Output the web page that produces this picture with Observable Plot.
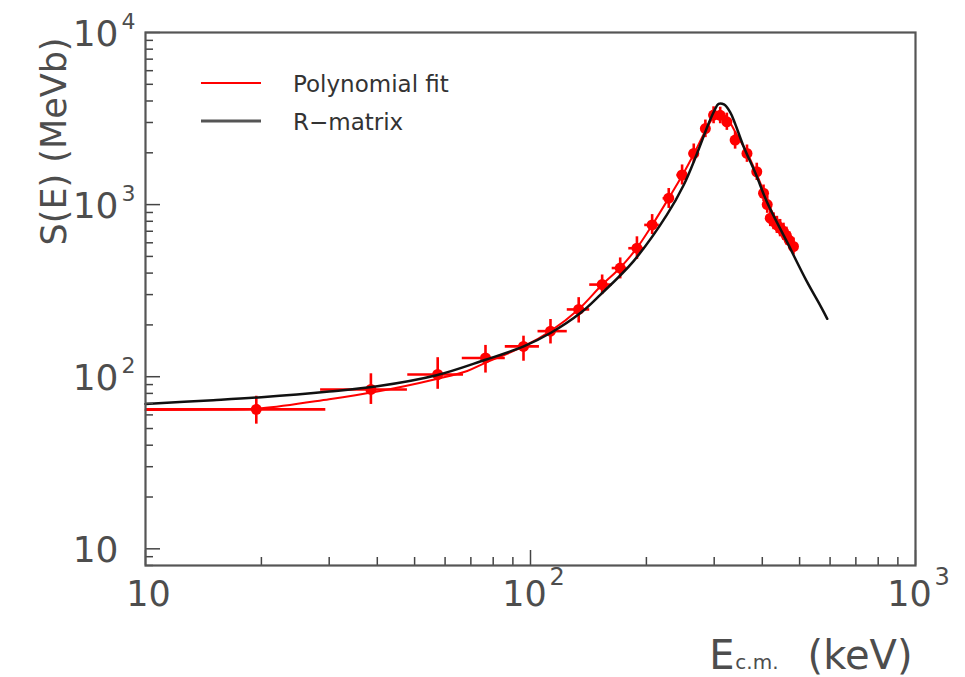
<!DOCTYPE html>
<html><head><meta charset="utf-8">
<script src="https://cdn.jsdelivr.net/npm/d3@7"></script>
<script src="https://cdn.jsdelivr.net/npm/@observablehq/plot@0.6"></script>
<style>
html,body{margin:0;padding:0;background:#fff;}
#chart{width:965px;height:677px;}
</style></head><body><div id="chart"></div>
<script>
// ---- data points (E in keV, S in MeV b) ----
const pointE   = [19.4, 38.5, 57.4, 76.4, 95.9, 112.7, 133.4, 153.5, 171, 189, 207, 228.6, 247.6, 265.5, 284.6, 298.9, 311, 323.6, 340, 365, 387, 403, 412, 419.5, 428, 436.5, 445, 454, 462, 470, 482];
const pointS   = [64.6, 84.3, 103, 128.5, 150, 184, 246, 343, 428, 558, 762, 1089, 1486, 1982, 2767, 3312, 3300, 3027, 2371, 1982, 1552, 1164, 1000, 834, 800, 762, 730, 697, 660, 620, 571];
const pointElo = [10, 28.5, 48, 66.5, 86, 104.6, 124.6, 142.5, 163, 180, 198, 221, 240, 258, 277, 292, 304, 316, 332, 357, 379, 395, 404, 411, 420, 428, 436, 445, 453, 461, 472];
const pointEhi = [29.4, 47.9, 67, 86, 105.5, 124.6, 142.5, 163, 178, 198, 216, 236, 255, 273, 292, 306, 318, 331, 348, 373, 395, 411, 420, 428, 436, 445, 454, 463, 471, 479, 492];
const pointSlo = [53, 69, 84.5, 105, 123, 155, 205, 300, 370, 480, 670, 950, 1300, 1750, 2450, 2950, 2950, 2700, 2100, 1760, 1380, 1040, 890, 745, 715, 680, 650, 620, 590, 555, 510];
const pointShi = [77, 104, 129, 152, 172, 215, 288, 390, 490, 650, 875, 1240, 1700, 2250, 3100, 3700, 3680, 3400, 2650, 2220, 1740, 1300, 1120, 935, 895, 855, 820, 780, 740, 695, 640];

// ---- polynomial fit ----
const polyE = [10, 15, 20, 30, 40, 47, 57, 68.5, 76, 96, 113, 133, 153, 171, 189, 207, 228, 248, 266, 285, 300, 312, 325, 340, 365, 387, 403, 420, 437, 454, 470, 482];
const polyS = [64, 64.5, 65.5, 74, 82, 88, 97, 108, 120, 150, 185, 245, 340, 430, 560, 760, 1080, 1480, 1980, 2700, 3250, 3400, 3150, 2650, 2000, 1500, 1200, 950, 800, 700, 620, 575];

// ---- R-matrix ----
const rmatE = [10, 15, 20, 30, 40, 57, 76, 96, 113, 135, 152, 185, 226, 250, 270, 290, 300, 308, 318, 330, 340, 357, 385, 411, 463, 522, 560, 590];
const rmatS = [69.5, 73, 76, 82, 88, 102, 125, 150, 180, 235, 300, 468, 871, 1300, 1950, 2950, 3500, 3850, 3820, 3450, 2950, 2200, 1500, 1040, 611, 358, 270, 217];

// ---- ticks ----
const xMajor = [10, 100, 1000];
const xMinor = [20, 30, 40, 50, 60, 70, 80, 90, 200, 300, 400, 500, 600, 700, 800, 900];
const xExp = ["", "2", "3"];
const yMajor = [10, 100, 1000, 10000];
const yMinor = [8, 9, 20, 30, 40, 50, 60, 70, 80, 90, 200, 300, 400, 500, 600, 700, 800, 900, 2000, 3000, 4000, 5000, 6000, 7000, 8000, 9000];
const yExp = ["", "2", "3", "4"];

const legendLabels = ["Polynomial fit", "R\u2212matrix"];

const points = pointE.map((e, i) => ({E: e, S: pointS[i], Elo: pointElo[i], Ehi: pointEhi[i], Slo: pointSlo[i], Shi: pointShi[i]}));
const poly = polyE.map((e, i) => ({E: e, S: polyS[i]}));
const rmat = rmatE.map((e, i) => ({E: e, S: rmatS[i]}));
const xLab = xMajor.map((v, i) => ({v, exp: xExp[i]}));
const yLab = yMajor.map((v, i) => ({v, exp: yExp[i]}));

const W = 965, H = 677, ML = 145, MR = 50, MT = 32, MB = 112;
const FW = W - ML - MR, FH = H - MT - MB;
const TXT = "#4d4d4d";
const FONT = "DejaVu Sans";

const plot = Plot.plot({
  width: W, height: H,
  marginLeft: ML, marginRight: MR, marginTop: MT, marginBottom: MB,
  style: {fontFamily: FONT, background: "#fff", overflow: "visible"},
  x: {type: "log", domain: [10, 1000], axis: null},
  y: {type: "log", domain: [8, 10000], axis: null},
  marks: [
    Plot.ruleY(points, {y: "S", x1: "Elo", x2: "Ehi", stroke: "#ff0000", strokeWidth: 2.6}),
    Plot.ruleX(points, {x: "E", y1: "Slo", y2: "Shi", stroke: "#ff0000", strokeWidth: 2.6}),
    Plot.dot(points, {x: "E", y: "S", r: 5.5, fill: "#ff0000", stroke: "none"}),
    Plot.line(poly, {x: "E", y: "S", stroke: "#ff0000", strokeWidth: 2, curve: "catmull-rom"}),
    Plot.line(rmat, {x: "E", y: "S", stroke: "#111", strokeWidth: 2.5, curve: "catmull-rom"}),
    // ticks (inward)
    Plot.tickX(xMajor, {x: d => d, insetTop: FH - 15, stroke: "#444", strokeWidth: 1.5}),
    Plot.tickX(xMinor, {x: d => d, insetTop: FH - 8, stroke: "#444", strokeWidth: 1.5}),
    Plot.tickY(yMajor, {y: d => d, insetRight: FW - 15, stroke: "#444", strokeWidth: 1.5}),
    Plot.tickY(yMinor, {y: d => d, insetRight: FW - 8, stroke: "#444", strokeWidth: 1.5}),
    Plot.frame({stroke: "#555", strokeWidth: 2.2}),
    // x tick labels
    Plot.text(xLab.filter(d => d.exp === ""), {x: "v", text: () => "10", frameAnchor: "bottom", dy: 40, dx: 3, fontSize: 35, fill: TXT}),
    Plot.text(xLab.filter(d => d.exp !== ""), {x: "v", text: () => "10", frameAnchor: "bottom", dy: 40, dx: -6, fontSize: 35, fill: TXT}),
    Plot.text(xLab.filter(d => d.exp !== ""), {x: "v", text: "exp", frameAnchor: "bottom", dy: 19, dx: 19, textAnchor: "start", fontSize: 24, fill: TXT}),
    // y tick labels
    Plot.text(yLab, {y: "v", text: () => "10", frameAnchor: "left", dx: -27, dy: 2, textAnchor: "end", fontSize: 36, fill: TXT}),
    Plot.text(yLab.filter(d => d.exp !== ""), {y: "v", text: "exp", frameAnchor: "left", dx: -24, dy: -11, textAnchor: "start", fontSize: 22, fill: TXT}),
    // axis titles
    Plot.text(["S(E) (MeVb)"], {text: d => d, frameAnchor: "top-left", dx: -104, dy: 5, rotate: -90, textAnchor: "end", fontSize: 35, fill: TXT}),
    Plot.text(["(keV)"], {text: d => d, frameAnchor: "bottom-right", dx: -3, dy: 103, textAnchor: "end", lineAnchor: "bottom", fontSize: 40, fill: TXT}),
    Plot.text(["c.m."], {text: d => d, frameAnchor: "bottom-right", dx: -137, dy: 103, textAnchor: "end", lineAnchor: "bottom", fontSize: 20, fill: TXT}),
    Plot.text(["E"], {text: d => d, frameAnchor: "bottom-right", dx: -181, dy: 103, textAnchor: "end", lineAnchor: "bottom", fontSize: 40, fill: TXT})
  ]
});
document.getElementById("chart").appendChild(plot);

// legend
const svg = d3.select(plot);
const lg = svg.append("g").attr("font-family", FONT).attr("font-size", 23).attr("fill", "#333").attr("text-anchor", "start");
const legendColors = ["#ff0000", "#555"];
const legendWidths = [2, 3];
legendLabels.forEach((lab, i) => {
  const y = 83 + i * 38;
  lg.append("line").attr("x1", 201).attr("x2", 261).attr("y1", y).attr("y2", y)
    .attr("stroke", legendColors[i]).attr("stroke-width", legendWidths[i]);
  lg.append("text").attr("x", 293).attr("y", y + 8.5).attr("text-anchor", "start").text(lab);
});
</script></body></html>
